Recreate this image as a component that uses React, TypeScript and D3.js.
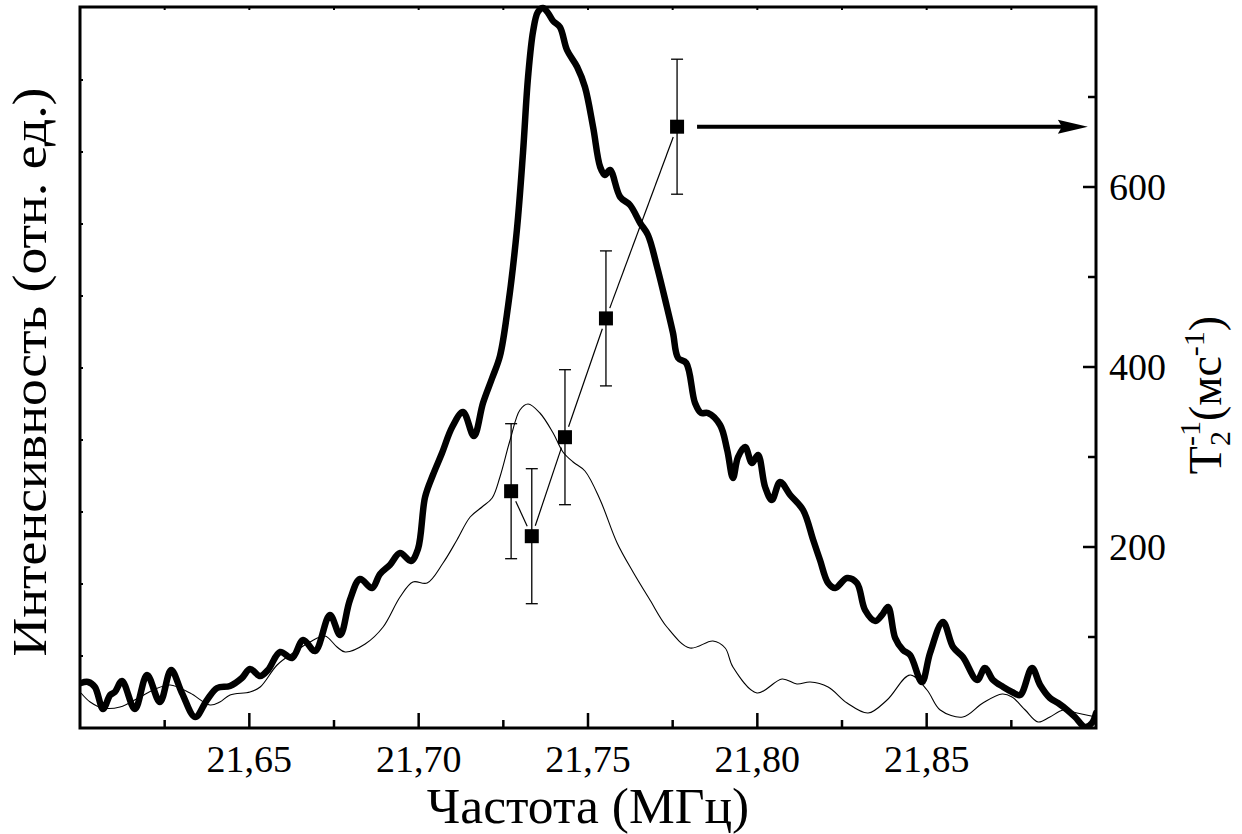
import React from "react";
import * as d3 from "d3";

// Thick curve: intensity spectrum (relative units)
const FREQ_THICK = [21.6003, 21.6024, 21.6044, 21.6068, 21.6089, 21.6103, 21.6124, 21.6162, 21.6198, 21.6236, 21.6269, 21.6301, 21.634, 21.6375, 21.6405, 21.6443, 21.6478, 21.6502, 21.6532, 21.6555, 21.6591, 21.6626, 21.6659, 21.6694, 21.6738, 21.6768, 21.6797, 21.6827, 21.6862, 21.6886, 21.6915, 21.6945, 21.6977, 21.6998, 21.7019, 21.7042, 21.7069, 21.7099, 21.7131, 21.7163, 21.719, 21.7217, 21.724, 21.7264, 21.729, 21.7308, 21.7323, 21.7338, 21.7352, 21.7367, 21.7382, 21.7397, 21.7417, 21.7438, 21.7468, 21.7491, 21.7515, 21.7536, 21.755, 21.7565, 21.7595, 21.7624, 21.7654, 21.7677, 21.7704, 21.7733, 21.7751, 21.7766, 21.779, 21.7816, 21.7834, 21.7854, 21.789, 21.7911, 21.7928, 21.7943, 21.7964, 21.7984, 21.8002, 21.8023, 21.8043, 21.8067, 21.8097, 21.8135, 21.8165, 21.8185, 21.8209, 21.823, 21.8265, 21.8294, 21.8318, 21.8348, 21.8368, 21.8386, 21.8407, 21.843, 21.8451, 21.8486, 21.851, 21.8548, 21.8578, 21.8607, 21.8649, 21.8672, 21.8696, 21.8726, 21.8752, 21.8776, 21.8811, 21.8835, 21.8864, 21.8888, 21.8915, 21.8938, 21.8968, 21.8988, 21.9];
const INT_THICK = [45, 46, 41, 19, 33, 36, 47, 19, 53, 26, 58, 35, 11, 28, 40, 42, 50, 59, 52, 58, 76, 70, 88, 77, 113, 93, 128, 149, 140, 154, 163, 175, 167, 179, 231, 253, 275, 301, 316, 292, 325, 350, 372, 422, 498, 575, 651, 697, 716, 720, 715, 707, 701, 678, 661, 641, 601, 561, 553, 558, 531, 523, 505, 493, 461, 421, 395, 370, 365, 325, 315, 315, 303, 278, 250, 271, 281, 265, 273, 241, 228, 246, 233, 218, 188, 168, 145, 140, 150, 145, 118, 107, 113, 121, 90, 78, 73, 46, 75, 106, 81, 71, 48, 60, 48, 41, 36, 33, 60, 43, 30, 25, 18, 11, 1, 5, 15];

// Thin curve: second spectrum (relative units)
const FREQ_THIN = [21.6003, 21.603, 21.6068, 21.6118, 21.6177, 21.6216, 21.6266, 21.6325, 21.6384, 21.6413, 21.6443, 21.6502, 21.6532, 21.6582, 21.6629, 21.6679, 21.6723, 21.6759, 21.6783, 21.6842, 21.6895, 21.6945, 21.6983, 21.7025, 21.7072, 21.7113, 21.7152, 21.7187, 21.7217, 21.724, 21.727, 21.7299, 21.7323, 21.7358, 21.7397, 21.7426, 21.7456, 21.7491, 21.7536, 21.7586, 21.7633, 21.7683, 21.7733, 21.7801, 21.7869, 21.7905, 21.7928, 21.7999, 21.8073, 21.8117, 21.8156, 21.8209, 21.8265, 21.8327, 21.8383, 21.8451, 21.8501, 21.854, 21.8607, 21.8666, 21.8723, 21.8752, 21.8791, 21.8829, 21.8864, 21.8903, 21.8944, 21.9];
const INT_THIN = [35, 26, 20, 21, 31, 38, 43, 35, 23, 26, 33, 36, 41, 63, 75, 86, 92, 81, 76, 84, 101, 131, 146, 145, 165, 188, 211, 221, 230, 251, 288, 318, 324, 315, 295, 276, 266, 257, 228, 185, 156, 128, 101, 80, 87, 80, 61, 35, 49, 44, 46, 41, 25, 15, 28, 53, 38, 18, 11, 25, 34, 31, 18, 6, 11, 18, 15, 11];

// T2^-1 points (ms^-1) with error bars
const T2_FREQ = [21.7273, 21.7334, 21.7432, 21.7553, 21.7763];
const T2_VAL = [262, 212, 322, 454, 667];
const T2_ERR = [75, 75, 75, 75, 75];

// Ticks
const X_TICKS = [21.65, 21.7, 21.75, 21.8, 21.85];
const X_MINOR = [21.625, 21.675, 21.725, 21.775, 21.825, 21.875];
const R_TICKS = [200, 400, 600];
const R_MINOR = [100, 300, 500, 700];
const L_TICKS = [72, 144, 216, 288, 360, 432, 504, 576, 648];

// Arrow (pointing to right axis), in data units
const ARROW_FROM = 21.7822;
const ARROW_TO = 21.8976;

const W = 1242;
const H = 834;
const L = 80, R = 1096, T = 7, B = 728;
const FONT = '"Liberation Serif", "Times New Roman", serif';
const ts = (size: number) => ({ fontFamily: FONT, fontSize: size });

export default function App() {
  const x = d3.scaleLinear().domain([21.6, 21.9]).range([L, R]);
  const yL = d3.scaleLinear().domain([0, 721]).range([B, T]);
  const yR = d3.scaleLinear().domain([0, 800]).range([B - 1, T]);

  const smooth = d3.curveCatmullRom.alpha(0.5);
  const lineThick = d3
    .line<number>()
    .x((_, i) => x(FREQ_THICK[i]))
    .y((d) => yL(d))
    .curve(smooth);
  const lineThin = d3
    .line<number>()
    .x((_, i) => x(FREQ_THIN[i]))
    .y((d) => yL(d))
    .curve(smooth);

  const fmt = (v: number) => d3.format(".2f")(v).replace(".", ",");

  const gap = 11;
  const segs = [];
  for (let i = 0; i < T2_FREQ.length - 1; i++) {
    const x1 = x(T2_FREQ[i]), y1 = yR(T2_VAL[i]);
    const x2 = x(T2_FREQ[i + 1]), y2 = yR(T2_VAL[i + 1]);
    const len = Math.hypot(x2 - x1, y2 - y1);
    const ux = (x2 - x1) / len, uy = (y2 - y1) / len;
    segs.push(
      <line
        key={"s" + i}
        x1={x1 + ux * gap}
        y1={y1 + uy * gap}
        x2={x2 - ux * gap}
        y2={y2 - uy * gap}
        stroke="#000"
        strokeWidth={1.2}
      />
    );
  }

  const ay = yR(T2_VAL[T2_VAL.length - 1]);
  const ax0 = x(ARROW_FROM);
  const ax1 = x(ARROW_TO);

  return (
    <svg
      width={W}
      height={H}
      style={{ position: "absolute", left: 0, top: 0, background: "#fff" }}
    >
      <rect x={0} y={0} width={W} height={H} fill="#fff" />
      <defs>
        <clipPath id="plotclip">
          <rect x={L} y={T - 4} width={R - L} height={B - T + 4} />
        </clipPath>
      </defs>

      <g clipPath="url(#plotclip)">
        <path d={lineThin(INT_THIN) || ""} fill="none" stroke="#000" strokeWidth={1.1} />
        <path
          d={lineThick(INT_THICK) || ""}
          fill="none"
          stroke="#000"
          strokeWidth={6.5}
          strokeLinejoin="round"
          strokeLinecap="round"
        />
      </g>

      {segs}
      {T2_FREQ.map((f, i) => {
        const cx = x(f);
        const top = yR(T2_VAL[i] + T2_ERR[i]);
        const bot = yR(T2_VAL[i] - T2_ERR[i]);
        return (
          <g key={"p" + i}>
            <line x1={cx} x2={cx} y1={top} y2={bot} stroke="#000" strokeWidth={1.3} />
            <line x1={cx - 6} x2={cx + 6} y1={top} y2={top} stroke="#000" strokeWidth={1.3} />
            <line x1={cx - 6} x2={cx + 6} y1={bot} y2={bot} stroke="#000" strokeWidth={1.3} />
            <rect x={cx - 7} y={yR(T2_VAL[i]) - 7} width={14} height={14} fill="#000" />
          </g>
        );
      })}

      <line x1={ax0} x2={ax1 - 24} y1={ay} y2={ay} stroke="#000" strokeWidth={4} />
      <path
        d={`M${ax1},${ay} L${ax1 - 30},${ay - 7} L${ax1 - 26},${ay} L${ax1 - 30},${ay + 7} Z`}
        fill="#000"
      />

      <rect x={L} y={T} width={R - L} height={B - T} fill="none" stroke="#000" strokeWidth={3} />

      {X_TICKS.map((v) => (
        <line key={"xt" + v} x1={x(v)} x2={x(v)} y1={B} y2={B - 15} stroke="#000" strokeWidth={2.5} />
      ))}
      {X_MINOR.map((v) => (
        <line key={"xm" + v} x1={x(v)} x2={x(v)} y1={B} y2={B - 8} stroke="#000" strokeWidth={2.5} />
      ))}
      {[...X_TICKS, ...X_MINOR].map((v) => (
        <line key={"tt" + v} x1={x(v)} x2={x(v)} y1={T} y2={T + 3} stroke="#000" strokeWidth={2} />
      ))}
      {L_TICKS.map((v) => (
        <line key={"lt" + v} x1={L} x2={L + 3} y1={yL(v)} y2={yL(v)} stroke="#000" strokeWidth={2} />
      ))}
      {R_TICKS.map((v) => (
        <line key={"rt" + v} x1={R} x2={R - 13} y1={yR(v)} y2={yR(v)} stroke="#000" strokeWidth={2.5} />
      ))}
      {R_MINOR.map((v) => (
        <line key={"rm" + v} x1={R} x2={R - 8} y1={yR(v)} y2={yR(v)} stroke="#000" strokeWidth={2.5} />
      ))}

      {X_TICKS.map((v) => (
        <text key={"xl" + v} x={x(v)} y={772} textAnchor="middle" style={ts(38)}>
          {fmt(v)}
        </text>
      ))}
      {R_TICKS.map((v) => (
        <text key={"rl" + v} x={1109} y={yR(v) + 12.5} textAnchor="start" style={ts(38)}>
          {v}
        </text>
      ))}

      <text x={588} y={823} textAnchor="middle" style={ts(51.5)}>
        Частота (МГц)
      </text>
      <text transform="translate(46,372) rotate(-90) scale(1.12,1)" textAnchor="middle" style={ts(48)}>
        Интенсивность (отн. ед.)
      </text>
      <text transform="translate(1221,395) rotate(-90)" textAnchor="middle" style={ts(46)}>
        <tspan>T</tspan>
        <tspan style={ts(30)} dy={9}>2</tspan>
        <tspan style={ts(30)} dx={-15} dy={-30}>-1</tspan>
        <tspan style={ts(46)} dy={21}>(мс</tspan>
        <tspan style={ts(30)} dy={-17}>-1</tspan>
        <tspan style={ts(46)} dy={17}>)</tspan>
      </text>
    </svg>
  );
}
